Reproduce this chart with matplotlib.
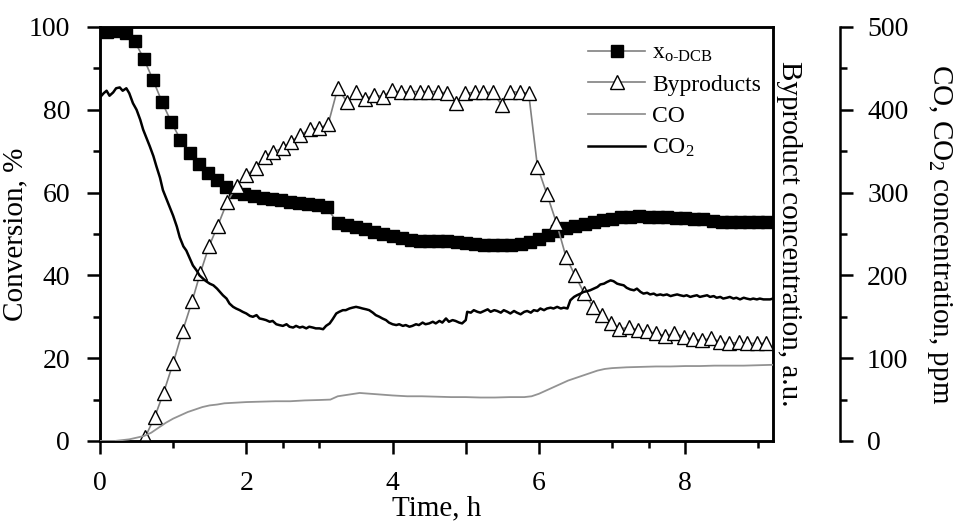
import numpy as np
import matplotlib.pyplot as plt
from matplotlib.ticker import MultipleLocator

plt.rcParams['font.family'] = 'Liberation Serif'
plt.rcParams['mathtext.fontset'] = 'custom'
plt.rcParams['mathtext.rm'] = 'Liberation Serif'
plt.rcParams['mathtext.it'] = 'Liberation Serif:italic'

# o-DCB conversion, %
t_dcb = [0.10, 0.225, 0.35, 0.475, 0.60, 0.725, 0.85, 0.975, 1.10, 1.225,
         1.35, 1.475, 1.60, 1.725, 1.85, 1.975, 2.10, 2.225, 2.35, 2.475,
         2.60, 2.725, 2.85, 2.975, 3.10, 3.25, 3.375, 3.50, 3.625, 3.75,
         3.875, 4.00, 4.125, 4.25, 4.375, 4.50, 4.625, 4.75, 4.875, 5.00,
         5.125, 5.25, 5.375, 5.50, 5.625, 5.75, 5.875, 6.00, 6.125, 6.25,
         6.375, 6.50, 6.625, 6.75, 6.875, 7.00, 7.125, 7.25, 7.375, 7.50,
         7.625, 7.75, 7.875, 8.00, 8.125, 8.25, 8.375, 8.50, 8.625, 8.75,
         8.875, 9.00, 9.125]
x_dcb = [98.8, 99.0, 98.6, 96.5, 92.3, 87.2, 81.8, 77.0, 72.8, 69.5,
         67.0, 64.8, 63.0, 61.4, 60.2, 59.6, 59.1, 58.7, 58.4, 58.1,
         57.8, 57.5, 57.2, 56.9, 56.4, 52.6, 52.2, 51.8, 51.2, 50.6,
         50.0, 49.5, 49.0, 48.6, 48.3, 48.2, 48.3, 48.3, 48.0, 47.8,
         47.5, 47.3, 47.3, 47.4, 47.4, 47.6, 48.0, 48.8, 49.8, 50.8,
         51.5, 52.0, 52.5, 53.0, 53.4, 53.7, 54.0, 54.2, 54.3, 54.2,
         54.1, 54.0, 53.9, 53.8, 53.7, 53.5, 53.2, 53.0, 52.9, 52.9,
         52.9, 53.0, 53.0]

# byproduct concentration, a.u.
t_byp = [0.62, 0.75, 0.87, 1.00, 1.13, 1.26, 1.37, 1.49, 1.61, 1.74,
         1.87, 2.00, 2.13, 2.26, 2.37, 2.50, 2.61, 2.74, 2.87, 3.00,
         3.12, 3.25, 3.38, 3.50, 3.62, 3.74, 3.87, 3.99, 4.11, 4.24,
         4.37, 4.49, 4.62, 4.74, 4.87, 4.99, 5.12, 5.24, 5.37, 5.49,
         5.61, 5.74, 5.86, 5.98, 6.11, 6.24, 6.37, 6.49, 6.62, 6.74,
         6.86, 6.98, 7.10, 7.23, 7.35, 7.48, 7.60, 7.73, 7.85, 7.98,
         8.10, 8.23, 8.35, 8.48, 8.60, 8.73, 8.85, 8.98, 9.10]
byp = [1.0, 5.9, 11.7, 18.8, 26.6, 33.8, 40.5, 47.0, 52.0, 57.8,
       61.6, 64.2, 66.0, 68.7, 69.9, 70.7, 72.3, 73.9, 75.3, 75.5,
       76.6, 85.2, 81.8, 84.4, 82.5, 83.6, 83.2, 84.8, 84.2, 84.4,
       84.4, 84.4, 84.4, 84.0, 81.7, 84.0, 84.2, 84.2, 84.2, 81.2,
       84.4, 84.2, 84.0, 66.3, 59.6, 52.7, 44.5, 40.1, 35.7, 32.4,
       30.4, 28.4, 27.0, 27.5, 26.8, 26.5, 26.0, 25.4, 26.0, 25.2,
       24.6, 24.3, 24.8, 24.0, 23.6, 23.8, 23.6, 23.6, 23.6]

# CO, ppm
t_co = [0.00, 0.10, 0.20, 0.30, 0.40, 0.50, 0.60, 0.70, 0.80, 0.90,
        1.00, 1.10, 1.20, 1.30, 1.40, 1.50, 1.60, 1.70, 1.80, 1.90,
        2.00, 2.20, 2.40, 2.60, 2.80, 3.00, 3.15, 3.25, 3.40, 3.55,
        3.70, 3.85, 4.00, 4.20, 4.40, 4.60, 4.80, 5.00, 5.20, 5.40,
        5.60, 5.80, 5.90, 6.00, 6.10, 6.20, 6.30, 6.40, 6.50, 6.60,
        6.70, 6.80, 6.90, 7.00, 7.20, 7.40, 7.60, 7.80, 8.00, 8.20,
        8.40, 8.60, 8.80, 9.00, 9.20]
co = [0, 0, 0, 1, 2, 4, 6, 10, 16, 22,
      27, 31, 35, 38, 41, 43, 44, 45.5, 46, 46.5,
      47, 47.5, 48, 48, 49, 49.5, 50, 54, 56, 58,
      57, 56, 55, 54, 54, 53.5, 53, 53, 52.5, 52.5,
      53, 53, 54, 57, 61, 65, 69, 73, 76, 79,
      82, 85, 87, 88, 89, 89.5, 90, 90, 90.5, 90.5,
      91, 91, 91, 91.5, 92]

# CO2, ppm
t_co2 = [0.00, 0.05, 0.09, 0.13, 0.18, 0.22, 0.27, 0.31, 0.36, 0.40,
         0.45, 0.50, 0.55, 0.59, 0.64, 0.68, 0.73, 0.77, 0.82, 0.86,
         0.91, 0.95, 1.00, 1.05, 1.09, 1.14, 1.18, 1.23, 1.27, 1.32,
         1.36, 1.41, 1.45, 1.50, 1.55, 1.60, 1.64, 1.68, 1.73, 1.77,
         1.82, 1.86, 1.91, 1.95, 2.00, 2.05, 2.09, 2.14, 2.18, 2.23,
         2.27, 2.32, 2.36, 2.41, 2.45, 2.50, 2.55, 2.59, 2.64, 2.68,
         2.73, 2.77, 2.82, 2.86, 2.91, 2.95, 3.00, 3.05, 3.09, 3.14,
         3.18, 3.23, 3.27, 3.32, 3.36, 3.41, 3.45, 3.50, 3.55, 3.59,
         3.64, 3.68, 3.73, 3.77, 3.82, 3.86, 3.91, 3.95, 4.00, 4.05,
         4.09, 4.14, 4.18, 4.23, 4.27, 4.32, 4.36, 4.41, 4.45, 4.50,
         4.55, 4.59, 4.64, 4.68, 4.73, 4.77, 4.82, 4.86, 4.91, 4.95,
         5.00, 5.02, 5.07, 5.11, 5.16, 5.20, 5.25, 5.30, 5.34, 5.39,
         5.43, 5.48, 5.52, 5.57, 5.61, 5.66, 5.70, 5.75, 5.80, 5.84,
         5.89, 5.93, 5.98, 6.02, 6.07, 6.11, 6.16, 6.20, 6.25, 6.30,
         6.34, 6.39, 6.43, 6.48, 6.52, 6.57, 6.61, 6.66, 6.70, 6.75,
         6.80, 6.84, 6.89, 6.93, 6.98, 7.02, 7.07, 7.11, 7.16, 7.20,
         7.25, 7.30, 7.34, 7.39, 7.43, 7.48, 7.52, 7.57, 7.61, 7.66,
         7.70, 7.75, 7.80, 7.84, 7.89, 7.93, 7.98, 8.02, 8.07, 8.11,
         8.16, 8.20, 8.25, 8.30, 8.34, 8.39, 8.43, 8.48, 8.52, 8.57,
         8.61, 8.66, 8.70, 8.75, 8.80, 8.84, 8.89, 8.93, 8.98, 9.02,
         9.07, 9.11, 9.16, 9.20]
co2 = [415, 420, 423, 417, 421, 426, 427, 423, 426, 420,
       408, 400, 388, 376, 365, 356, 344, 332, 318, 303,
       292, 283, 272, 259, 246, 235, 230, 220, 212, 206,
       200, 196, 193, 190, 188, 184, 180, 176, 172, 166,
       162, 160, 158, 156, 154, 151, 150, 152, 148, 147,
       146, 144, 145, 141, 140, 139, 141, 138, 137, 139,
       137, 138, 136, 138, 137, 136, 136, 135, 139, 142,
       147, 154, 156, 158, 158, 160, 161, 162, 161, 160,
       159, 158, 155, 152, 150, 148, 146, 143, 141, 140,
       141, 139, 140, 138, 139, 141, 140, 143, 141, 142,
       144, 142, 145, 143, 148, 144, 146, 145, 143, 142,
       146, 156, 155, 158, 156, 155, 157, 159, 156, 158,
       157, 155, 158, 156, 154, 157, 155, 153, 156, 157,
       155, 158, 157, 160, 158, 160, 161, 160, 162, 160,
       161, 160, 170, 174, 176, 178, 180, 181, 182, 184,
       186, 189, 190, 192, 194, 193, 190, 189, 188, 185,
       183, 182, 184, 180, 178, 179, 177, 178, 176, 177,
       176, 177, 175, 176, 177, 176, 175, 176, 174, 175,
       176, 174, 175, 176, 174, 175, 173, 174, 172, 173,
       174, 172, 173, 171, 173, 172, 171, 172, 171, 172,
       171, 171, 171, 172]

gray = '#808080'
lw_axis = 1.8

fig = plt.figure(figsize=(9.57, 5.22), dpi=100)
ax = fig.add_axes([0.1045, 0.1552, 0.7032, 0.7931])
ax2 = ax.twinx()
ax3 = ax.twinx()

l1, = ax.plot(t_dcb, x_dcb, color=gray, lw=1.2, marker='s', ms=8.5,
              mfc='k', mec='k', label=r'x$_{\text{o-DCB}}$')
l2, = ax2.plot(t_byp, byp, color=gray, lw=1.2, marker='^', ms=10,
               mfc='white', mec='k', mew=1.0, label='Byproducts')
l3, = ax3.plot(t_co, co, color='#939393', lw=1.3, label='CO')
l4, = ax3.plot(t_co2, co2, color='k', lw=1.8, label=r'CO$_2$')

ax.set_xlim(0, 9.2)
ax.set_ylim(0, 100)
ax2.set_ylim(0, 100)
ax3.set_ylim(0, 500)

ax.set_xticks([0, 2, 4, 5, 6, 8], ['0', '2', '4', '', '6', '8'])
ax.set_xticks([1, 2.5, 3, 7, 7.5, 9], minor=True)
ax.yaxis.set_major_locator(MultipleLocator(20))
ax.yaxis.set_minor_locator(MultipleLocator(10))
ax.tick_params(which='both', direction='out', width=lw_axis, labelsize=20,
               top=False, right=False)
ax.tick_params(which='major', length=9.5)
ax.tick_params(which='minor', length=5)
ax.tick_params(axis='x', which='major', pad=12)
ax.tick_params(axis='y', which='major', pad=12)

for a in (ax, ax2, ax3):
    for s in a.spines.values():
        s.set_linewidth(lw_axis)

ax2.tick_params(right=False, labelright=False)
ax2.set_ylabel('Byproduct concentration, a.u.', rotation=270, fontsize=21,
               labelpad=21)

ax3.spines['right'].set_position(('axes', 1.0996))
for side in ('left', 'top', 'bottom'):
    ax3.spines[side].set_visible(False)
ax3.yaxis.set_major_locator(MultipleLocator(100))
ax3.yaxis.set_minor_locator(MultipleLocator(50))
ax3.tick_params(which='both', direction='out', width=lw_axis, labelsize=20)
ax3.tick_params(which='major', length=9.5, pad=10)
ax3.tick_params(which='minor', length=5)
ax3.set_ylabel(r'CO, CO$_2$ concentration, ppm', rotation=270, fontsize=21,
               labelpad=33)

ax.set_xlabel('Time, h', fontsize=21, labelpad=0)
ax.set_ylabel('Conversion, %', fontsize=21, labelpad=0)

ax3.legend(handles=[l1, l2, l3, l4], loc='upper left',
           bbox_to_anchor=(0.605, 0.937), bbox_transform=fig.transFigure,
           frameon=False, fontsize=17, handlelength=2.4, handletextpad=0.3,
           labelspacing=0.42, borderaxespad=0, numpoints=1)

fig.savefig('out.png', dpi=100)
